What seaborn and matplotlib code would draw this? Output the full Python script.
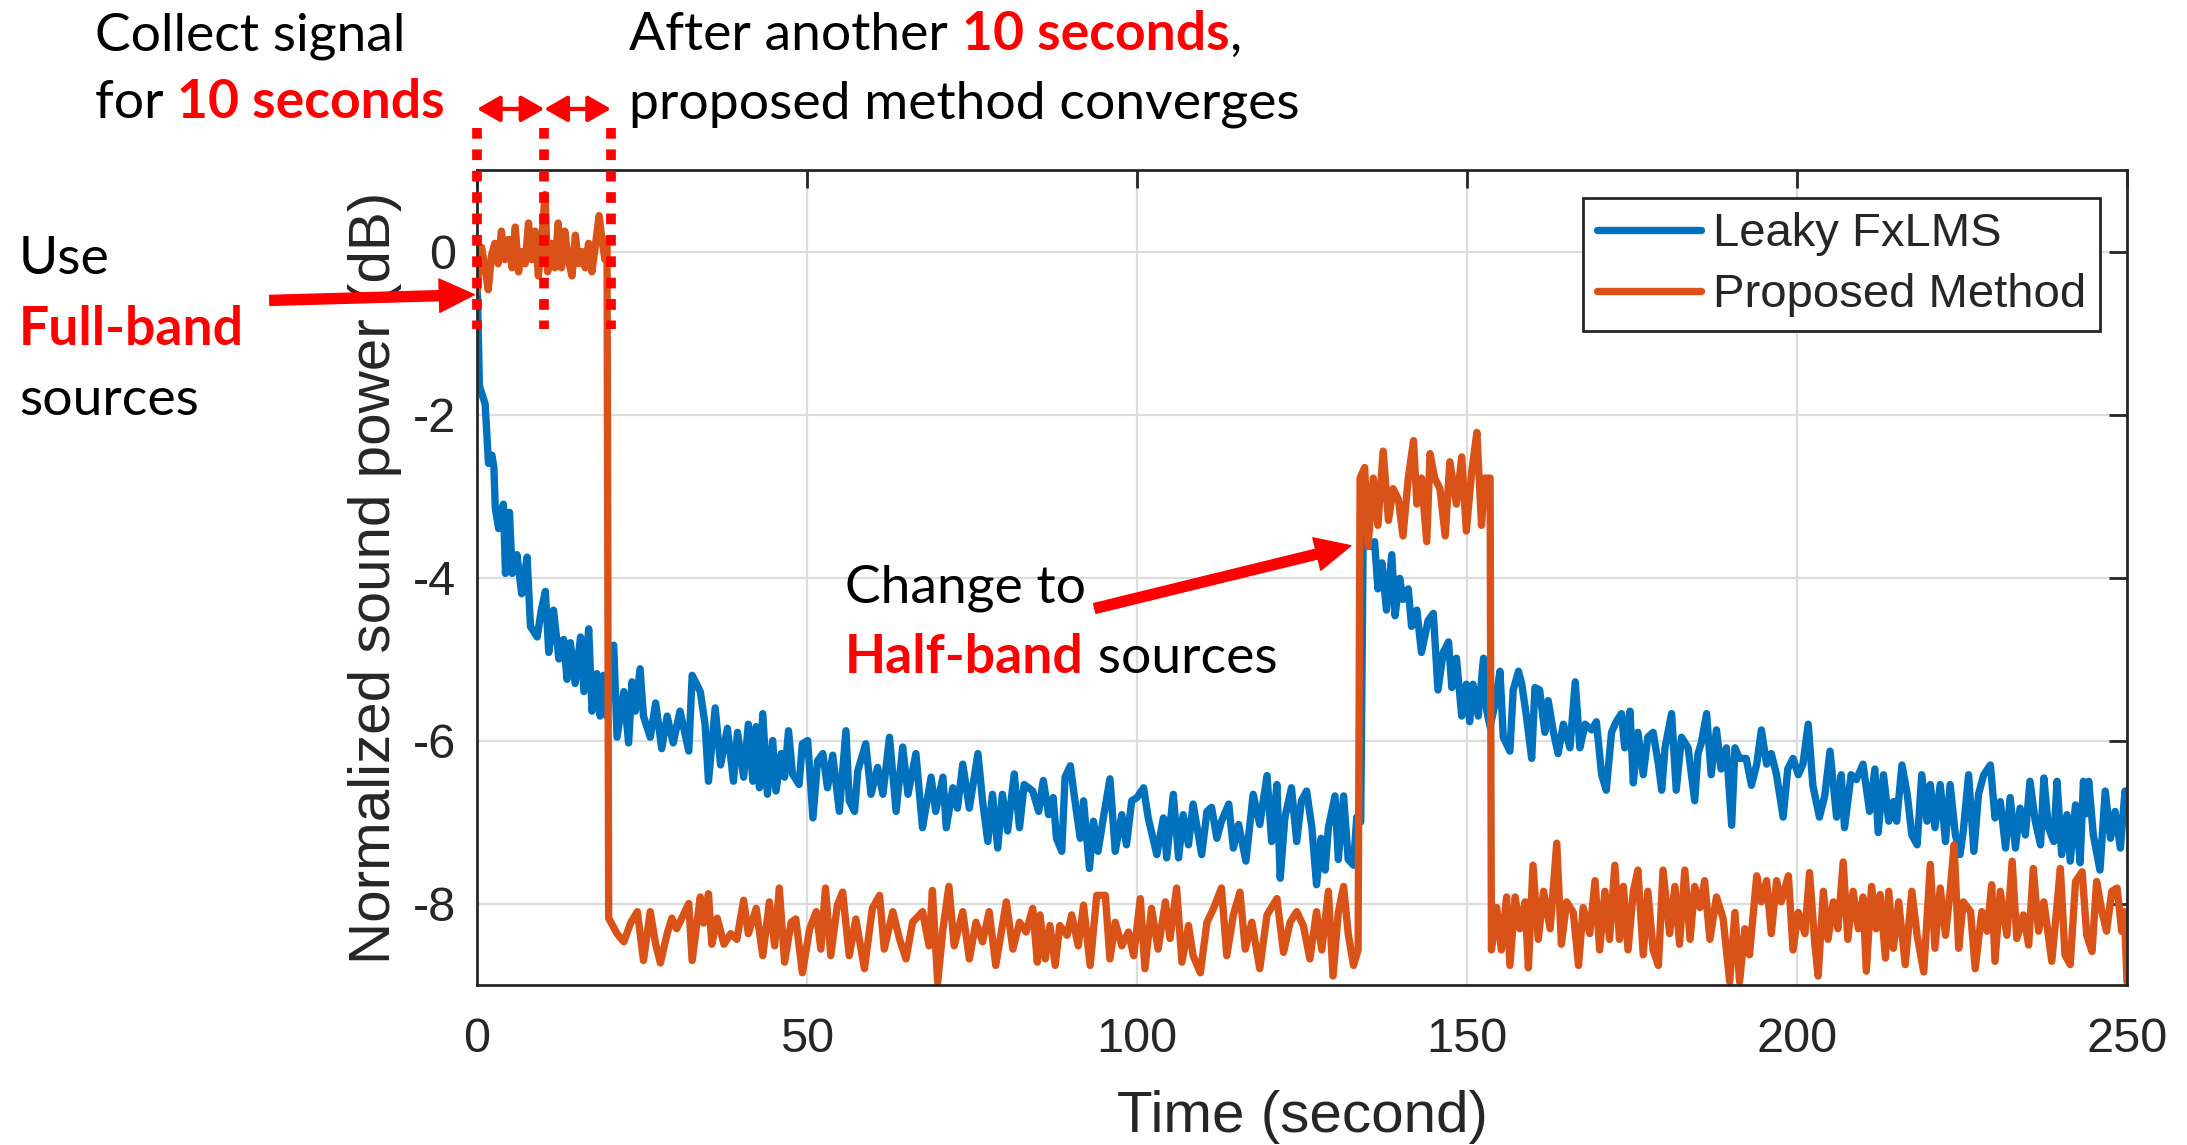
import matplotlib
matplotlib.use("Agg")
import matplotlib.pyplot as plt
import seaborn as sns
import pandas as pd

# ---------------- data ----------------
blue_t = [
    0.0, 0.2, 0.36, 1.23, 1.74, 2.26, 2.56, 2.77, 3.28, 4.0,
    4.31, 4.92, 5.33, 6.05, 6.77, 7.59, 8.1, 9.12, 9.74, 10.36,
    10.87, 11.59, 12.41, 13.12, 13.64, 14.15, 14.87, 15.69, 16.2, 16.92,
    17.43, 18.15, 18.66, 19.17, 19.69, 20.71, 21.22, 22.25, 22.97, 23.48,
    23.99, 24.71, 25.22, 26.25, 27.07, 27.99, 28.81, 29.73, 30.76, 32.09,
    32.6, 33.83, 34.55, 35.07, 36.09, 36.91, 37.94, 38.86, 39.47, 40.4,
    41.11, 41.8, 42.3, 42.8, 43.3, 44.0, 44.8, 45.3, 46.1, 46.6,
    47.2, 47.8, 48.8, 49.3, 50.1, 50.9, 51.6, 52.4, 53.1, 53.9,
    54.9, 55.9, 56.4, 57.2, 57.7, 58.9, 59.7, 60.7, 61.5, 62.5,
    63.5, 64.5, 65.3, 66.5, 67.5, 68.8, 69.5, 70.6, 71.1, 72.1,
    72.8, 73.6, 74.6, 75.9, 76.6, 77.4, 78.1, 78.9, 79.6, 80.4,
    81.4, 82.2, 82.9, 84.2, 85.1, 85.8, 86.6, 87.3, 87.8, 88.6,
    89.1, 89.9, 90.6, 91.4, 91.9, 92.8, 93.4, 94.1, 94.9, 95.9,
    96.7, 97.7, 98.4, 99.2, 100.0, 101.0, 101.7, 103.0, 104.0, 104.5,
    105.5, 106.3, 107.0, 107.8, 108.5, 109.8, 110.6, 111.3, 112.1, 112.8,
    113.9, 114.6, 115.4, 116.5, 117.6, 118.6, 119.7, 120.4, 121.2, 121.7,
    122.4, 123.4, 124.2, 124.9, 125.7, 126.5, 127.2, 127.9, 128.5, 129.0,
    130.0, 130.5, 131.3, 132.0, 132.8, 133.3, 133.9, 134.3, 134.6, 135.3,
    136.0, 136.5, 137.1, 137.8, 138.6, 139.1, 139.8, 140.3, 141.1, 141.6,
    142.4, 143.1, 144.1, 144.9, 145.6, 146.4, 147.2, 147.7, 148.4, 149.2,
    149.9, 150.4, 150.9, 151.7, 152.5, 153.0, 153.5, 154.2, 155.0, 155.5,
    156.5, 157.0, 157.8, 158.3, 159.0, 159.8, 160.3, 161.0, 161.8, 162.3,
    163.1, 163.8, 164.6, 165.6, 166.4, 167.1, 167.9, 168.9, 169.6, 170.4,
    171.1, 171.9, 172.6, 173.4, 173.9, 174.7, 175.2, 175.9, 176.7, 177.4,
    178.2, 179.0, 179.5, 180.0, 181.0, 181.7, 182.5, 183.5, 184.5, 185.0,
    185.5, 186.3, 187.0, 187.8, 188.5, 189.3, 190.1, 190.6, 191.3, 192.3,
    193.1, 193.9, 194.6, 195.4, 196.1, 196.9, 197.9, 198.6, 199.4, 200.2,
    200.9, 201.7, 202.4, 203.4, 204.2, 205.0, 206.0, 206.7, 207.2, 208.2,
    209.0, 210.0, 211.0, 211.8, 212.3, 213.1, 213.9, 214.6, 215.1, 215.9,
    216.7, 217.4, 218.2, 218.9, 219.7, 220.2, 220.9, 221.7, 222.5, 223.2,
    224.0, 224.7, 225.2, 226.0, 226.8, 227.5, 228.3, 229.3, 230.0, 230.8,
    231.6, 232.3, 233.1, 233.8, 234.6, 235.3, 236.1, 236.9, 237.4, 238.1,
    238.9, 239.4, 240.1, 240.9, 241.4, 242.2, 242.9, 243.4, 243.8, 244.2,
    244.9, 245.9, 246.7, 247.5, 248.2, 249.0, 249.7, 250.0,
]
blue_db = [
    -0.3, -1.0, -1.65, -1.87, -2.6, -2.5, -2.65, -3.15, -3.4, -3.1,
    -3.95, -3.2, -3.95, -3.72, -4.2, -3.75, -4.6, -4.73, -4.4, -4.17,
    -4.92, -4.4, -5.0, -4.76, -5.25, -4.8, -5.3, -4.73, -5.4, -4.63,
    -5.64, -5.18, -5.7, -5.2, -5.7, -4.83, -5.96, -5.4, -6.03, -5.28,
    -5.64, -5.12, -5.7, -5.96, -5.54, -6.1, -5.7, -6.03, -5.64, -6.13,
    -5.2, -5.4, -5.8, -6.5, -5.6, -6.3, -5.85, -6.5, -5.9, -6.45,
    -5.8, -6.5, -5.83, -6.58, -5.67, -6.66, -6.0, -6.62, -6.16, -6.45,
    -5.88, -6.41, -6.54, -6.04, -6.0, -6.95, -6.25, -6.16, -6.58, -6.18,
    -6.87, -5.88, -6.74, -6.87, -6.37, -6.04, -6.66, -6.33, -6.66, -5.96,
    -6.87, -6.08, -6.66, -6.16, -7.07, -6.45, -6.87, -6.45, -7.07, -6.58,
    -6.83, -6.29, -6.83, -6.16, -6.74, -7.24, -6.66, -7.32, -6.66, -7.11,
    -6.41, -7.07, -6.54, -6.62, -6.87, -6.49, -6.91, -6.70, -7.20, -7.36,
    -6.45, -6.31, -6.74, -7.20, -6.74, -7.57, -6.99, -7.36, -6.95, -6.47,
    -7.36, -6.91, -7.28, -6.74, -6.70, -6.58, -6.95, -7.40, -6.95, -7.44,
    -6.66, -7.44, -6.91, -7.28, -6.78, -7.40, -6.87, -6.82, -7.20, -6.99,
    -6.78, -7.32, -7.03, -7.48, -6.66, -7.03, -6.43, -7.24, -6.54, -7.69,
    -6.95, -6.58, -7.24, -6.74, -6.62, -7.07, -7.77, -7.20, -7.59, -7.07,
    -6.68, -7.46, -6.68, -7.46, -7.53, -6.94, -7.00, -3.20, -3.50, -3.62,
    -3.56, -4.14, -3.82, -4.40, -3.72, -4.47, -4.01, -4.27, -4.14, -4.60,
    -4.40, -4.92, -4.53, -4.44, -5.38, -4.92, -4.79, -5.35, -4.99, -5.70,
    -5.31, -5.77, -5.31, -5.70, -4.99, -5.64, -5.83, -5.57, -5.15, -5.96,
    -6.13, -5.38, -5.15, -5.31, -5.70, -6.22, -5.35, -5.38, -5.90, -5.51,
    -5.90, -6.16, -5.80, -6.09, -5.28, -6.09, -5.80, -5.87, -5.77, -6.42,
    -6.61, -5.90, -5.77, -5.67, -6.09, -5.64, -6.52, -5.90, -6.42, -5.96,
    -5.90, -6.29, -6.61, -6.09, -5.67, -6.61, -5.96, -6.09, -6.74, -6.16,
    -6.03, -5.67, -6.42, -5.87, -6.35, -6.09, -7.04, -6.09, -6.22, -6.22,
    -6.55, -6.29, -5.87, -6.29, -6.16, -6.42, -6.94, -6.35, -6.22, -6.42,
    -6.29, -5.80, -6.55, -6.94, -6.68, -6.13, -6.94, -6.42, -7.07, -6.42,
    -6.48, -6.29, -6.87, -6.35, -7.13, -6.42, -6.99, -6.75, -6.99, -6.30,
    -6.66, -7.16, -7.28, -6.42, -6.99, -6.54, -7.07, -6.54, -7.24, -6.54,
    -7.16, -7.40, -7.11, -6.42, -7.36, -6.66, -6.42, -6.30, -6.95, -6.75,
    -7.32, -6.70, -7.32, -6.83, -7.16, -6.50, -6.99, -7.28, -6.46, -7.07,
    -7.24, -6.50, -7.40, -6.91, -7.48, -6.79, -7.50, -6.50, -6.90, -6.50,
    -7.16, -7.59, -6.62, -7.20, -6.87, -7.32, -6.62, -6.75,
]

orange_t = [
    0.0, 0.3, 0.7, 1.2, 1.7, 2.2, 2.7, 3.2, 3.7, 4.2,
    4.8, 5.3, 5.8, 6.3, 6.8, 7.3, 7.8, 8.3, 8.8, 9.3,
    9.8, 10.3, 10.7, 11.3, 11.8, 12.3, 12.8, 13.3, 13.8, 14.4,
    14.9, 15.4, 15.9, 16.4, 16.9, 17.4, 17.9, 18.5, 19.0, 19.4,
    19.7, 19.95, 21.22, 22.25, 23.27, 24.3, 25.22, 26.25, 27.07, 27.79,
    28.81, 29.53, 30.25, 31.27, 32.09, 32.6, 33.83, 34.35, 35.07, 35.58,
    36.4, 37.42, 38.45, 39.37, 40.4, 41.11, 42.3, 43.3, 44.3, 45.1,
    45.8, 46.6, 47.6, 48.3, 49.3, 50.4, 51.4, 52.1, 52.8, 53.6,
    54.6, 55.4, 56.4, 57.4, 58.7, 59.9, 61.0, 61.7, 63.0, 64.0,
    65.0, 66.0, 67.5, 68.5, 69.0, 69.8, 70.6, 71.5, 72.3, 73.6,
    74.6, 75.6, 76.6, 77.6, 78.6, 80.2, 81.2, 82.2, 83.2, 84.2,
    84.9, 85.3, 86.1, 86.8, 87.6, 88.3, 89.4, 90.1, 91.1, 91.9,
    92.9, 93.9, 95.2, 95.9, 96.7, 97.7, 98.7, 99.5, 100.5, 101.2,
    102.2, 103.2, 104.3, 105.0, 106.0, 106.8, 107.8, 108.5, 109.6, 110.6,
    111.6, 112.8, 113.6, 114.6, 115.6, 116.4, 117.4, 118.6, 119.7, 121.2,
    122.2, 123.2, 124.2, 125.2, 126.2, 127.2, 128.0, 129.0, 129.7, 130.5,
    131.3, 132.0, 132.8, 133.5, 133.8, 134.5, 135.0, 135.8, 136.5, 137.3,
    138.1, 138.8, 139.6, 140.3, 141.1, 141.9, 142.4, 143.1, 143.9, 144.4,
    145.1, 145.9, 146.7, 147.4, 148.4, 149.2, 149.9, 150.7, 151.5, 152.2,
    152.7, 153.5, 153.7, 154.5, 155.2, 156.0, 156.5, 157.3, 158.0, 158.8,
    159.3, 160.0, 160.8, 161.6, 162.6, 163.6, 164.3, 165.1, 166.1, 166.9,
    167.6, 168.6, 169.4, 170.1, 170.9, 171.6, 172.4, 173.1, 173.7, 174.4,
    175.2, 175.9, 176.7, 177.4, 178.2, 179.0, 179.7, 180.7, 181.5, 182.2,
    183.0, 183.8, 184.5, 185.3, 186.0, 186.8, 187.8, 188.8, 189.8, 190.6,
    191.3, 192.1, 192.8, 193.9, 194.6, 195.4, 196.1, 196.9, 197.6, 198.7,
    199.4, 200.2, 201.2, 201.9, 202.7, 203.2, 204.0, 204.7, 205.5, 206.2,
    207.0, 207.7, 208.5, 209.3, 210.0, 210.5, 211.3, 212.0, 212.6, 213.4,
    213.9, 214.6, 215.4, 216.4, 217.4, 218.2, 219.2, 220.2, 220.9, 221.7,
    222.5, 223.2, 223.8, 224.5, 225.2, 226.3, 227.0, 228.0, 228.8, 229.5,
    230.0, 230.8, 231.8, 232.6, 233.3, 234.3, 235.1, 235.8, 236.6, 237.4,
    238.6, 239.4, 239.9, 240.6, 241.4, 242.2, 243.2, 243.9, 244.7, 245.4,
    246.2, 246.9, 247.7, 248.5, 249.2, 249.6, 250.0,
]
orange_db = [
    -0.5, -0.15, 0.05, -0.2, -0.47, -0.05, 0.1, -0.15, 0.25, -0.1,
    0.15, -0.2, 0.3, -0.25, 0.0, -0.15, 0.35, -0.1, 0.25, -0.3,
    0.1, 0.7, -0.25, 0.1, -0.2, 0.35, -0.2, 0.25, -0.1, -0.3,
    0.2, -0.15, 0.0, -0.2, 0.1, -0.25, 0.05, 0.44, 0.1, -0.1,
    0.15, -8.18, -8.37, -8.47, -8.24, -8.10, -8.70, -8.10, -8.50, -8.73,
    -8.37, -8.18, -8.31, -8.14, -8.00, -8.70, -7.92, -8.24, -7.88, -8.50,
    -8.18, -8.50, -8.37, -8.44, -7.96, -8.37, -8.06, -8.64, -7.98, -8.52,
    -7.81, -8.72, -8.23, -8.19, -8.85, -8.31, -8.10, -8.56, -7.81, -8.64,
    -8.02, -7.86, -8.64, -8.19, -8.80, -8.06, -7.90, -8.56, -8.10, -8.43,
    -8.68, -8.23, -8.10, -8.52, -7.84, -8.97, -8.31, -7.79, -8.52, -8.10,
    -8.68, -8.23, -8.47, -8.10, -8.76, -7.98, -8.56, -8.23, -8.35, -8.06,
    -8.72, -8.14, -8.68, -8.27, -8.76, -8.27, -8.39, -8.14, -8.52, -8.02,
    -8.76, -7.90, -7.90, -8.68, -8.23, -8.52, -8.35, -8.64, -7.94, -8.80,
    -8.06, -8.56, -7.98, -8.43, -7.81, -8.72, -8.27, -8.64, -8.85, -8.23,
    -8.06, -7.81, -8.64, -8.14, -7.86, -8.56, -8.23, -8.80, -8.14, -7.94,
    -8.60, -8.23, -8.10, -8.27, -8.68, -8.10, -8.57, -7.85, -8.89, -8.11,
    -7.79, -8.37, -8.76, -8.57, -2.78, -2.65, -3.62, -2.78, -3.36, -2.45,
    -3.30, -2.91, -3.04, -3.49, -2.78, -2.32, -3.10, -2.78, -3.56, -2.48,
    -2.78, -2.91, -3.49, -2.58, -3.10, -2.52, -3.43, -2.71, -2.22, -3.36,
    -2.78, -2.78, -8.57, -8.05, -8.57, -7.92, -8.76, -7.92, -8.31, -7.98,
    -8.79, -7.53, -8.44, -7.85, -8.31, -7.26, -8.50, -7.98, -8.11, -8.76,
    -8.05, -8.37, -7.72, -8.57, -7.85, -8.44, -7.53, -8.44, -7.79, -8.57,
    -7.85, -7.59, -8.63, -7.85, -8.57, -8.76, -7.59, -8.37, -7.79, -8.50,
    -7.59, -8.44, -7.79, -8.05, -7.72, -8.44, -7.92, -8.18, -8.96, -8.11,
    -8.96, -8.31, -8.63, -7.66, -7.98, -7.72, -8.37, -7.72, -7.98, -7.66,
    -8.57, -8.11, -8.37, -7.62, -8.50, -8.89, -7.85, -8.44, -7.98, -8.31,
    -7.49, -8.44, -7.85, -8.31, -7.92, -8.83, -7.79, -8.31, -7.89, -8.67,
    -7.85, -8.55, -7.98, -8.75, -7.85, -8.39, -8.84, -7.52, -8.55, -7.81,
    -8.39, -7.85, -7.28, -8.55, -7.98, -8.10, -8.80, -8.10, -8.34, -7.77,
    -8.71, -7.85, -8.39, -7.48, -8.43, -8.14, -8.51, -7.57, -8.34, -7.98,
    -8.71, -8.02, -7.57, -8.63, -8.75, -7.73, -7.61, -8.39, -8.59, -7.73,
    -8.10, -8.34, -7.85, -7.81, -8.34, -8.10, -8.96,
]
assert len(blue_t) == len(blue_db), (len(blue_t), len(blue_db))
assert len(orange_t) == len(orange_db), (len(orange_t), len(orange_db))

series_names = ["Leaky FxLMS", "Proposed Method"]
xticks = [0, 50, 100, 150, 200, 250]
yticks = [-8, -6, -4, -2, 0]
ytick_labels = ["-8", "-6", "-4", "-2", "0"]
marker_times = [0, 10.2, 20.3]      # red dotted markers (s)

# ---------------- style ----------------
sns.set_theme(style="white")
plt.rcParams['font.family'] = ['Liberation Sans', 'DejaVu Sans']
ANN = ['Lato', 'DejaVu Sans']
BLUE, ORANGE, RED, AX = '#0072BD', '#D95319', '#FF0000', '#262626'

W, H = 2187, 1145
fig = plt.figure(figsize=(W / 100, H / 100), dpi=100)
ax = fig.add_axes([477 / W, 1 - 985 / H, (2127 - 477) / W, (985 - 170) / H])

df_b = pd.DataFrame({'t': blue_t, 'db': blue_db})
df_o = pd.DataFrame({'t': orange_t, 'db': orange_db})
kw = dict(estimator=None, sort=False, lw=5.3, solid_joinstyle='round', solid_capstyle='round')
sns.lineplot(data=df_b, x='t', y='db', ax=ax, color=BLUE, label=series_names[0], **kw)
sns.lineplot(data=df_o, x='t', y='db', ax=ax, color=ORANGE, label=series_names[1], **kw)

ax.set_xlim(0, 250)
ax.set_ylim(-9, 1)
ax.set_xticks(xticks)
ax.set_yticks(yticks)
ax.set_yticklabels(ytick_labels)
ax.grid(True, color='#dcdcdc', lw=1.6)
ax.set_axisbelow(True)
ax.tick_params(direction='in', length=13, width=2, colors=AX, top=True, right=True,
               labelsize=35, labelcolor=AX)
ax.tick_params(axis='y', pad=15)
ax.tick_params(axis='x', pad=23)
for s in ax.spines.values():
    s.set_linewidth(2)
    s.set_color(AX)
ax.set_xlabel('Time (second)', fontsize=42, color=AX, labelpad=20)
ax.set_ylabel('Normalized sound power (dB)', fontsize=42, color=AX, labelpad=8)

leg = ax.legend(loc='upper right', bbox_to_anchor=(2100 / W, 1 - 198 / H),
                bbox_transform=fig.transFigure, borderaxespad=0, fontsize=34,
                frameon=True, fancybox=False, framealpha=1, edgecolor=AX,
                handlelength=2.2, handletextpad=0.25, borderpad=0.3, labelspacing=0.36)
leg.get_frame().set_linewidth(2)
for ln in leg.get_lines():
    ln.set_linewidth(5.3)

# ---------------- annotations ----------------
for tm in marker_times:
    ax.plot([tm, tm], [1.52, -0.95], color=RED, lw=7, linestyle=(0, (1.1, 1.1)),
            dash_capstyle='butt', clip_on=False, zorder=10)

for a, b in [(marker_times[0], marker_times[1]), (marker_times[1], marker_times[2])]:
    ax.annotate('', xy=(b, 1.75), xytext=(a, 1.75), annotation_clip=False,
                arrowprops=dict(arrowstyle='<|-|>,head_length=0.7,head_width=0.4',
                                color=RED, lw=3, mutation_scale=20,
                                shrinkA=0, shrinkB=0))

big = dict(arrowstyle='simple,head_length=1.05,head_width=1.0,tail_width=0.3',
           color=RED, mutation_scale=24, shrinkA=0, shrinkB=0)
ax.annotate('', xy=(-0.4, -0.53), xytext=(-31.4, -0.6), annotation_clip=False, arrowprops=big)
ax.annotate('', xy=(132.4, -3.61), xytext=(93.6, -4.38), annotation_clip=False, arrowprops=big)

renderer = fig.canvas.get_renderer()
FS = 38.5


def seg_text(x_px, base_px, segments):
    x = x_px
    for s, color, weight in segments:
        t = fig.text(x / W, 1 - base_px / H, s, color=color, fontweight=weight,
                     fontsize=FS, family=ANN, ha='left', va='baseline')
        x += t.get_window_extent(renderer).width


seg_text(95, 50, [('Collect signal', 'black', 'normal')])
seg_text(95, 118, [('for ', 'black', 'normal'), ('10 seconds', RED, 'bold')])
seg_text(629, 50, [('After another ', 'black', 'normal'), ('10 seconds', RED, 'bold'),
                   (',', 'black', 'normal')])
seg_text(629, 118, [('proposed method converges', 'black', 'normal')])
seg_text(19, 274, [('Use', 'black', 'normal')])
seg_text(19, 345, [('Full-band', RED, 'bold')])
seg_text(19, 415, [('sources', 'black', 'normal')])
seg_text(845, 603, [('Change to', 'black', 'normal')])
seg_text(845, 673, [('Half-band', RED, 'bold'), (' sources', 'black', 'normal')])

fig.savefig('out.png', dpi=100)
